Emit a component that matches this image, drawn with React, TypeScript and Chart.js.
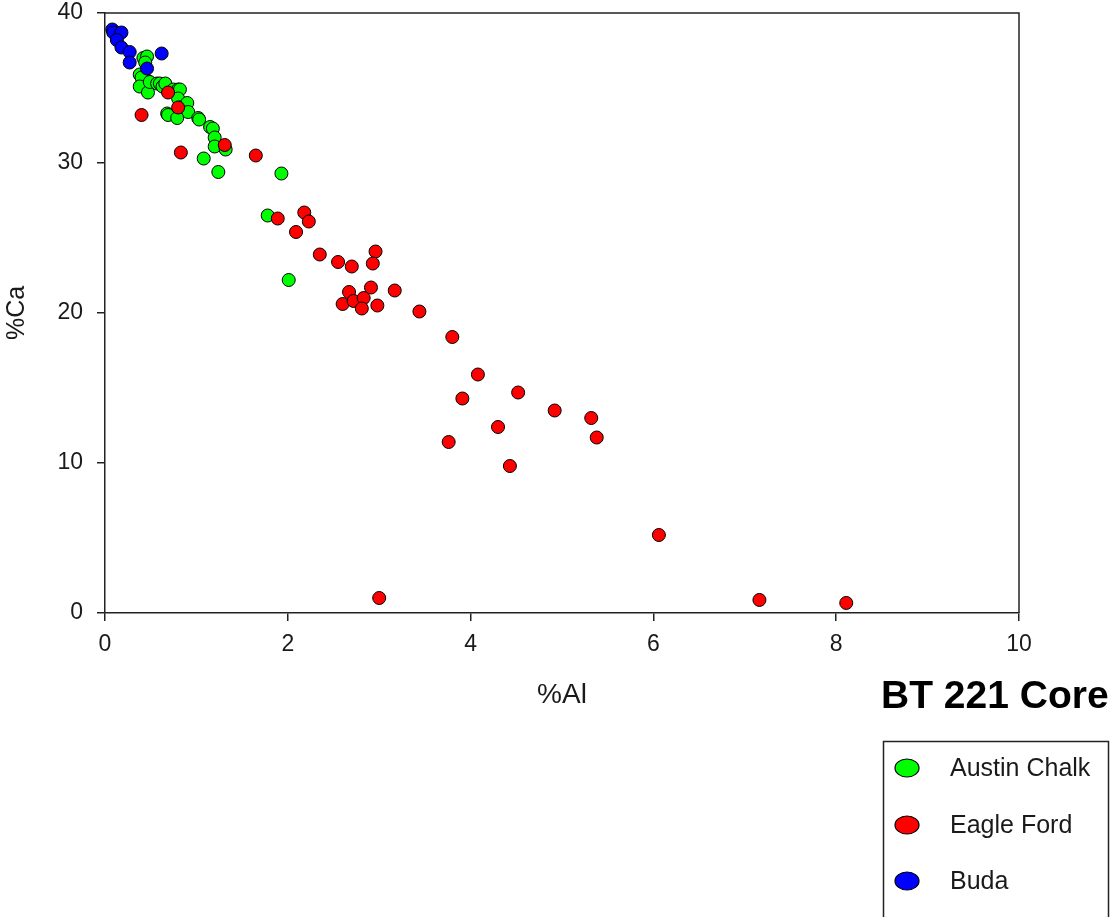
import React, { useEffect, useRef } from "react";
import { Chart, registerables } from "chart.js";

Chart.register(...registerables);

const chalkX = [0.42, 0.46, 0.44, 0.38, 0.46, 0.40, 0.38, 0.47, 0.49, 0.57, 0.60, 0.63, 0.66, 0.75, 0.80, 0.82, 0.80, 0.82, 0.90, 0.91, 0.68, 0.69, 0.79, 1.02, 1.03, 1.15, 1.18, 1.20, 1.20, 1.32, 1.08, 1.24, 1.93, 1.78, 2.01];
const chalkY = [37.0, 37.1, 36.7, 35.9, 35.5, 35.7, 35.1, 34.7, 35.4, 35.3, 35.3, 35.1, 35.3, 34.9, 34.9, 34.9, 34.3, 33.7, 34.0, 33.4, 33.3, 33.2, 33.0, 33.0, 32.9, 32.4, 32.3, 31.7, 31.1, 30.9, 30.3, 29.4, 29.3, 26.5, 22.2];

const eagleX = [0.40, 0.69, 0.80, 0.83, 1.31, 1.65, 1.89, 2.18, 2.23, 2.09, 2.35, 2.55, 2.70, 2.96, 2.93, 2.67, 2.91, 3.17, 2.60, 2.72, 2.83, 2.81, 2.98, 3.44, 3.80, 4.08, 3.91, 4.52, 4.92, 5.32, 5.38, 4.30, 3.76, 4.43, 6.06, 7.16, 8.11, 3.00];
const eagleY = [33.2, 34.7, 33.7, 30.7, 31.2, 30.5, 26.3, 26.7, 26.1, 25.4, 23.9, 23.4, 23.1, 24.1, 23.3, 21.4, 21.7, 21.5, 20.6, 20.8, 21.0, 20.3, 20.5, 20.1, 18.4, 15.9, 14.3, 14.7, 13.5, 13.0, 11.7, 12.4, 11.4, 9.8, 5.2, 0.87, 0.67, 1.0];

const budaX = [0.08, 0.09, 0.18, 0.13, 0.18, 0.27, 0.27, 0.62, 0.46];
const budaY = [38.9, 38.7, 38.7, 38.2, 37.7, 37.4, 36.7, 37.3, 36.3];

const seriesNames = ["Austin Chalk", "Eagle Ford", "Buda"];
const seriesColors = ["#00ff00", "#ff0000", "#0000ff"];
const xTicks = [0, 2, 4, 6, 8, 10];
const yTicks = [0, 10, 20, 30, 40];
const chartTitle = "BT 221 Core";
const xTitle = "%Al";
const yTitle = "%Ca";

const FONT = 'Arial, "Liberation Sans", sans-serif';
const TEXT = "#1a1a1a";
const LINE = "#222222";

const toPoints = (xs: number[], ys: number[]) => xs.map((x, i) => ({ x, y: ys[i] }));

const framePlugin = {
  id: "frameAndLegend",
  afterDraw(chart: any) {
    const ctx = chart.ctx as CanvasRenderingContext2D;
    const { left, top, right, bottom } = chart.chartArea;
    ctx.save();
    ctx.strokeStyle = LINE;
    ctx.lineWidth = 1.5;
    ctx.beginPath();
    ctx.moveTo(left, top);
    ctx.lineTo(right, top);
    ctx.lineTo(right, bottom);
    ctx.stroke();

    ctx.fillStyle = "#000";
    ctx.font = `bold 39px ${FONT}`;
    ctx.textAlign = "left";
    ctx.textBaseline = "middle";
    ctx.fillText(chartTitle, 881, 697);

    ctx.lineWidth = 1.5;
    ctx.strokeStyle = "#222";
    ctx.strokeRect(883.5, 741.5, 225, 200);

    const rows = [768, 825, 881];
    chart.data.datasets.forEach((ds: any, i: number) => {
      const y = rows[i];
      ctx.beginPath();
      ctx.ellipse(907, y, 12, 9, 0, 0, Math.PI * 2);
      ctx.fillStyle = ds.backgroundColor;
      ctx.fill();
      ctx.lineWidth = 1.2;
      ctx.strokeStyle = "#000";
      ctx.stroke();
      ctx.fillStyle = TEXT;
      ctx.font = `25px ${FONT}`;
      ctx.textAlign = "left";
      ctx.textBaseline = "middle";
      ctx.fillText(ds.label, 950, y + 1);
    });
    ctx.restore();
  },
};

export default function App() {
  const ref = useRef<HTMLCanvasElement | null>(null);

  useEffect(() => {
    if (!ref.current) return;
    const data = [toPoints(chalkX, chalkY), toPoints(eagleX, eagleY), toPoints(budaX, budaY)];
    const chart = new Chart(ref.current, {
      type: "scatter",
      data: {
        datasets: data.map((d, i) => ({
          label: seriesNames[i],
          data: d,
          backgroundColor: seriesColors[i],
          borderColor: "#000",
          borderWidth: 1,
          pointRadius: 6.5,
          pointHoverRadius: 6.5,
          order: 3 - i,
        })),
      },
      options: {
        animation: false,
        responsive: false,
        maintainAspectRatio: false,
        layout: { padding: { left: 0, top: 13, right: 96, bottom: 0 } },
        plugins: { legend: { display: false }, tooltip: { enabled: false }, title: { display: false } },
        scales: {
          x: {
            type: "linear",
            min: 0,
            max: 10,
            afterFit: (s: any) => { s.height = 304; s.paddingLeft = 0; s.paddingRight = 0; },
            afterBuildTicks: (s: any) => { s.ticks = xTicks.map((v) => ({ value: v })); },
            ticks: { color: TEXT, font: { family: FONT, size: 23 }, padding: 10 },
            grid: { drawOnChartArea: false, drawTicks: true, tickLength: 8, color: LINE, lineWidth: 1.5 },
            border: { display: true, color: LINE, width: 1.5 },
            title: { display: true, text: xTitle, color: TEXT, font: { family: FONT, size: 28 }, padding: { top: 0, bottom: 205 } },
          },
          y: {
            type: "linear",
            min: 0,
            max: 40,
            afterFit: (s: any) => { s.width = 105; s.paddingTop = 0; s.paddingBottom = 0; },
            afterBuildTicks: (s: any) => { s.ticks = yTicks.map((v) => ({ value: v })); },
            ticks: { color: TEXT, font: { family: FONT, size: 23 }, padding: 14 },
            grid: { drawOnChartArea: false, drawTicks: true, tickLength: 8, color: LINE, lineWidth: 1.5 },
            border: { display: true, color: LINE, width: 1.5 },
            title: { display: true, text: yTitle, color: TEXT, font: { family: FONT, size: 25 }, padding: { top: 2, bottom: 0 } },
          },
        },
      },
      plugins: [framePlugin],
    });
    return () => chart.destroy();
  }, []);

  return (
    <div style={{ position: "absolute", left: 0, top: 0, width: 1115, height: 917, background: "#fff" }}>
      <canvas ref={ref} width={1115} height={917} style={{ display: "block", width: 1115, height: 917 }} />
    </div>
  );
}
